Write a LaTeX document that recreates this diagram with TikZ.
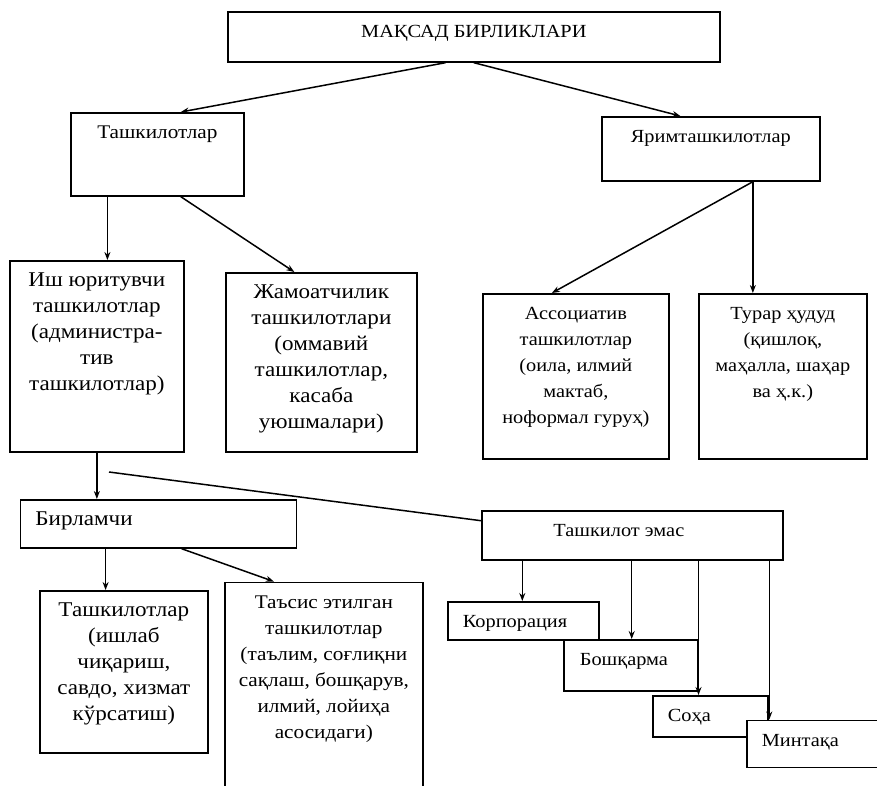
\documentclass[tikz,border=0pt]{standalone}
\usepackage{fontspec}
\setmainfont{Liberation Serif}[FakeStretch=1.1]
\usepackage{tikz}
\usetikzlibrary{arrows.meta}

% text block of a box: width, height, lines (first baseline 26pt below the top)
\newcommand{\unitlines}[4][\centering]{\parbox[t][#3][t]{#2}{#1\rule{0pt}{26pt}#4}}

\begin{document}
\begin{tikzpicture}[x=1pt,y=-1pt,
    unit/.style={draw, fill=white, line width=1.7pt, inner sep=0pt, anchor=north west},
    big/.style={font=\fontsize{21}{26}\selectfont},
    mid/.style={font=\fontsize{19.3}{26}\selectfont},
    small/.style={font=\fontsize{18.5}{26}\selectfont},
    link/.style={-{Stealth[length=8pt,width=6pt]}, line width=1.5pt},
    plain/.style={line width=1.5pt}]
    \useasboundingbox (0,0) rectangle (877,785);

    % top
    \node[unit, small] (maqsad) at (227,11) {\unitlines{492pt}{50pt}{МАҚСАД БИРЛИКЛАРИ}};
    \node[unit, mid] (tashkilot) at (70,112) {\unitlines{173pt}{83pt}{Ташкилотлар}};
    \node[unit, small] (yarim) at (601,116) {\unitlines{218pt}{64pt}{Яримташкилотлар}};

    % second row
    \node[unit, big] (ish) at (9,260) {\unitlines{174pt}{191pt}{Иш юритувчи\\ташкилотлар\\(администра-\\тив\\ташкилотлар)}};
    \node[unit, big] (jamoat) at (225,272) {\unitlines{191pt}{179pt}{Жамоатчилик\\ташкилотлари\\(оммавий\\ташкилотлар,\\касаба\\уюшмалари)}};
    \node[unit, small] (assoc) at (482,293) {\unitlines{186pt}{165pt}{Ассоциатив\\ташкилотлар\\(оила, илмий\\мактаб,\\ноформал гуруҳ)}};
    \node[unit, small] (turar) at (698,293) {\unitlines{168pt}{165pt}{Турар ҳудуд\\(қишлоқ,\\маҳалла, шаҳар\\ва ҳ.к.)}};

    % third row
    \node[unit, big] (birlamchi) at (19.6,499) {\unitlines[\raggedright\hspace*{15pt}]{276pt}{48pt}{Бирламчи}};
    \node[unit, small] (emas) at (481,510) {\unitlines[\centering\hspace*{-27pt}]{301pt}{49pt}{Ташкилот эмас}};
    \node[unit, big] (tashkilot2) at (39,590) {\unitlines{168pt}{162pt}{Ташкилотлар\\(ишлаб\\чиқариш,\\савдо, хизмат\\кўрсатиш)}};
    \node[unit, mid] (tasis) at (224,581.5) {\unitlines{198pt}{212pt}{Таъсис этилган\\ташкилотлар\\(таълим, соғлиқни\\сақлаш, бошқарув,\\илмий, лойиҳа\\асосидаги)}};

    % stairs
    \node[unit, small] (korp) at (447,601) {\unitlines[\raggedright\hspace*{15pt}]{151pt}{38pt}{Корпорация}};
    \node[unit, small] (boshq) at (563,639) {\unitlines[\raggedright\hspace*{16pt}]{134pt}{51pt}{Бошқарма}};
    \node[unit, small] (soha) at (652,695) {\unitlines[\raggedright\hspace*{15pt}]{115pt}{41pt}{Соҳа}};
    \node[unit, small] (mintaqa) at (746,719.5) {\unitlines[\raggedright\hspace*{15pt}]{134pt}{47pt}{Минтақа}};

    % arrows
    \draw[link] ([xshift=-28.4pt]maqsad.south) -- ([xshift=23.5pt]tashkilot.north);
    \draw[link] (maqsad.south) -- ([xshift=-30.5pt]yarim.north);
    \draw[link] ([xshift=37.4pt]tashkilot.south west) -- ([xshift=37.4pt]tashkilot.south west |- ish.north);
    \draw[link] ([xshift=23.5pt]tashkilot.south) -- ([xshift=-27pt]jamoat.north);
    \draw[link] ([xshift=42pt]yarim.south) -- ([xshift=-24pt]assoc.north);
    \draw[link] ([xshift=42pt]yarim.south) -- ([xshift=42pt]yarim.south |- turar.north);
    \draw[link] (ish.south) -- (ish.south |- birlamchi.north);
    \coordinate (split) at (109,472);
    \draw[plain] (split) -- ([yshift=-10.7pt]emas.north west);
    \draw[link] ([xshift=86pt]birlamchi.south west) -- ([xshift=86pt]birlamchi.south west |- tashkilot2.north);
    \draw[link] ([xshift=162pt]birlamchi.south west) -- ([xshift=-50pt]tasis.north);
    \draw[link] ([xshift=41.3pt]emas.south west) -- ([xshift=41.3pt]emas.south west |- korp.north);
    \draw[link] ([xshift=150.7pt]emas.south west) -- ([xshift=150.7pt]emas.south west |- boshq.north);
    \draw[link] ([xshift=217.5pt]emas.south west) -- ([xshift=217.5pt]emas.south west |- soha.north);
    \draw[link] ([xshift=288.3pt]emas.south west) -- ([xshift=288.3pt]emas.south west |- mintaqa.north);
\end{tikzpicture}
\end{document}
